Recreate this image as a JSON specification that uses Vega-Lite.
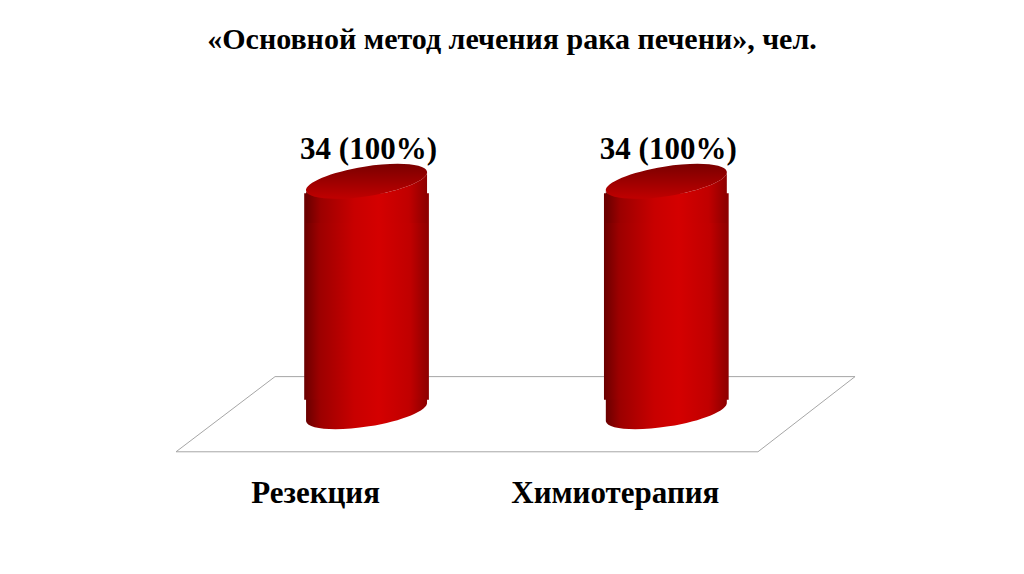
{
  "$schema": "https://vega.github.io/schema/vega-lite/v6.json",
  "width": 1024,
  "height": 574,
  "autosize": {"type": "fit", "contains": "padding"},
  "padding": {"top": 25, "left": 0, "right": 0, "bottom": 0},
  "background": "white",
  "config": {"view": {"stroke": null}},
  "title": {
    "text": "«Основной метод лечения рака печени», чел.",
    "font": "Liberation Serif",
    "fontSize": 30,
    "fontWeight": "bold",
    "color": "#000000",
    "anchor": "middle",
    "baseline": "top",
    "offset": 0
  },
  "datasets": {
    "bars": [
      {"method": "Резекция", "value": 34, "label": "34 (100%)"},
      {"method": "Химиотерапия", "value": 34, "label": "34 (100%)"}
    ],
    "floor": [
      {"fx": 26.86, "fy": 5.18, "ord": 1},
      {"fx": 83.5, "fy": 5.18, "ord": 2},
      {"fx": 74.02, "fy": -5.91, "ord": 3},
      {"fx": 17.19, "fy": -5.91, "ord": 4},
      {"fx": 26.86, "fy": 5.18, "ord": 5}
    ]
  },
  "resolve": {"scale": {"x": "independent"}},
  "layer": [
    {
      "data": {"name": "floor"},
      "mark": {"type": "line", "color": "#a6a6a6", "strokeWidth": 1},
      "encoding": {
        "x": {"field": "fx", "type": "quantitative", "axis": null, "scale": {"domain": [0, 100], "nice": false, "zero": false}},
        "y": {"field": "fy", "type": "quantitative", "axis": null, "scale": {"domain": [-23.94, 52.63], "nice": false, "zero": false}},
        "order": {"field": "ord", "type": "quantitative"}
      }
    },
    {
      "data": {"name": "bars"},
      "layer": [
        {
          "mark": {
            "type": "point",
            "filled": true,
            "opacity": 1,
            "strokeWidth": 0,
            "size": 14283,
            "shape": "M -1.0124 0.1603 C -0.991 0.2956 -0.5203 0.3336 0.0388 0.245 C 0.5979 0.1564 1.0338 -0.025 1.0124 -0.1603 L 1.0124 -0.7 L -1.0124 -0.7 Z",
            "color": {"gradient": "linear", "x1": 0, "y1": 0, "x2": 1, "y2": 0,
              "stops": [
                {"offset": 0, "color": "#6a0000"},
                {"offset": 0.12, "color": "#9c0000"},
                {"offset": 0.4, "color": "#c80000"},
                {"offset": 0.6, "color": "#d40000"},
                {"offset": 0.85, "color": "#c00000"},
                {"offset": 1, "color": "#8c0000"}
              ]}
          },
          "encoding": {
            "y": {"datum": 0, "type": "quantitative"}
          }
        },
        {
          "mark": {
            "type": "bar",
            "yOffset": 12,
            "y2Offset": -12,
            "color": {"gradient": "linear", "x1": 0, "y1": 0, "x2": 1, "y2": 0,
              "stops": [
                {"offset": 0, "color": "#6a0000"},
                {"offset": 0.12, "color": "#9c0000"},
                {"offset": 0.4, "color": "#c80000"},
                {"offset": 0.6, "color": "#d40000"},
                {"offset": 0.85, "color": "#c00000"},
                {"offset": 1, "color": "#8c0000"}
              ]}
          },
          "encoding": {
            "y": {"field": "value", "type": "quantitative"},
            "y2": {"datum": 0}
          }
        },
        {
          "mark": {
            "type": "point",
            "filled": true,
            "opacity": 1,
            "strokeWidth": 0,
            "size": 14283,
            "shape": "M -1.0124 0.1603 C -0.991 0.2956 -0.5203 0.3336 0.0388 0.245 C 0.5979 0.1564 1.0338 -0.025 1.0124 -0.1603 L 1.0124 0.7 L -1.0124 0.7 Z",
            "color": {"gradient": "linear", "x1": 0, "y1": 0, "x2": 1, "y2": 0,
              "stops": [
                {"offset": 0, "color": "#6a0000"},
                {"offset": 0.12, "color": "#9c0000"},
                {"offset": 0.4, "color": "#c80000"},
                {"offset": 0.6, "color": "#d40000"},
                {"offset": 0.85, "color": "#c00000"},
                {"offset": 1, "color": "#8c0000"}
              ]}
          },
          "encoding": {
            "y": {"field": "value", "type": "quantitative"}
          }
        },
        {
          "mark": {
            "type": "point",
            "filled": true,
            "opacity": 1,
            "strokeWidth": 0,
            "size": 14283,
            "shape": "M 1.0124 -0.1603 C 1.0338 -0.025 0.5979 0.1564 0.0388 0.245 C -0.5203 0.3336 -0.991 0.2956 -1.0124 0.1603 C -1.0338 0.025 -0.5979 -0.1564 -0.0388 -0.245 C 0.5203 -0.3336 0.991 -0.2956 1.0124 -0.1603 Z",
            "color": {"gradient": "linear", "x1": 0, "y1": 0, "x2": 0, "y2": 1,
              "stops": [
                {"offset": 0, "color": "#7a0000"},
                {"offset": 0.55, "color": "#a00000"},
                {"offset": 1, "color": "#c00000"}
              ]}
          },
          "encoding": {
            "y": {"field": "value", "type": "quantitative"}
          }
        },
        {
          "mark": {"type": "text", "font": "Liberation Serif", "fontSize": 31, "fontWeight": "bold", "color": "#000000", "baseline": "middle", "align": "center", "dy": -31, "dx": 2},
          "encoding": {
            "y": {"field": "value", "type": "quantitative"},
            "text": {"field": "label"}
          }
        },
        {
          "mark": {"type": "text", "font": "Liberation Serif", "fontSize": 31, "fontWeight": "bold", "color": "#000000", "baseline": "middle", "align": "center", "dy": 82, "dx": -51},
          "encoding": {
            "y": {"datum": 0, "type": "quantitative"},
            "text": {"field": "method"}
          }
        }
      ],
      "encoding": {
        "x": {"field": "method", "type": "nominal", "axis": null, "sort": null,
          "scale": {"type": "band", "paddingInner": 0.584, "paddingOuter": 1.0515, "align": 0.5074}}
      }
    }
  ]
}
